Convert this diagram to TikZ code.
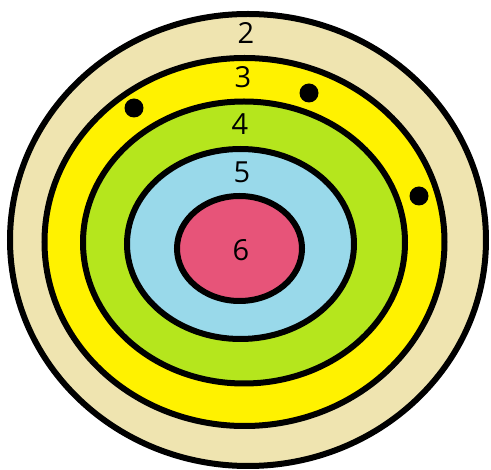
\documentclass[tikz,border=0pt]{standalone}
\usepackage{fontspec}
\setmainfont{Open Sans}
\usepackage{tikz}
\definecolor{mBeige}{HTML}{EFE4B0}
\definecolor{mYellow}{HTML}{FFF200}
\definecolor{mLime}{HTML}{B5E61D}
\definecolor{mSky}{HTML}{99D9EA}
\definecolor{mRose}{HTML}{E75479}
\tikzset{
  ring/.style={draw=black, line width=6pt},
  ringlabel/.style={font=\fontsize{29}{33}\selectfont, text=black, inner sep=0pt},
  bead/.style={fill=black}
}
\begin{document}
\begin{tikzpicture}[x=1pt, y=-1pt]
    \useasboundingbox (0,0) rectangle (491,470);
    % rings from outside in
    \foreach \cx/\cy/\rx/\ry/\col in {248/240/238/226/mBeige, 244.5/242/200/184/mYellow,
        244/242.5/161/141/mLime, 240.5/244/113.5/95/mSky, 239.5/248.5/62.5/52.5/mRose} {
      \draw[ring, fill=\col] (\cx,\cy) ellipse [x radius=\rx, y radius=\ry];
    }
    % ring numbers
    \node[ringlabel] (lab2) at (246,33) {2};
    \node[ringlabel] (lab3) at (243,77) {3};
    \node[ringlabel] (lab4) at (240,124) {4};
    \node[ringlabel] (lab5) at (242,172) {5};
    \node[ringlabel] (lab6) at (241,250) {6};
    % beads on the yellow ring
    \foreach \bx/\by in {134/108, 309/93, 419/196} {
      \fill[bead] (\bx,\by) circle [radius=9.5];
    }
  \end{tikzpicture}
\end{document}
